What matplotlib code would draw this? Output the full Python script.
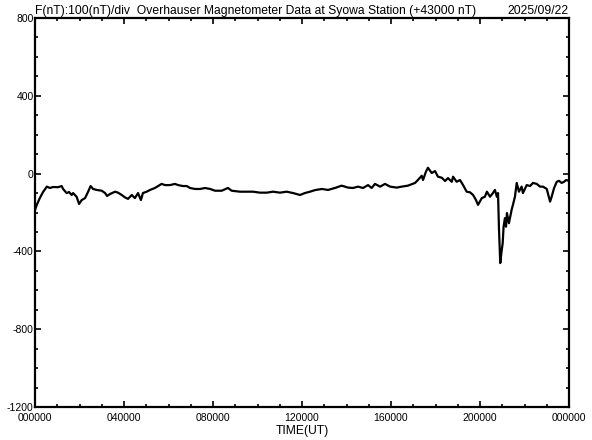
import matplotlib
matplotlib.use("Agg")
import matplotlib.pyplot as plt
from matplotlib.ticker import MultipleLocator

# F (nT) relative to 43000 nT; time in hours UT
hours = [0.00, 0.08, 0.22, 0.36, 0.53, 0.67, 0.81, 1.03, 1.20, 1.26, 1.42, 1.53,
         1.65, 1.71, 1.87, 1.98, 2.10, 2.25, 2.38, 2.50, 2.61, 2.77, 3.00, 3.15,
         3.24, 3.37, 3.60, 3.73, 3.90, 4.04, 4.18, 4.35, 4.49, 4.63, 4.76, 4.85,
         5.02, 5.17, 5.39, 5.53, 5.69, 5.84, 6.07, 6.29, 6.43, 6.65, 6.82, 6.97,
         7.19, 7.42, 7.64, 7.87, 8.09, 8.39, 8.67, 8.84, 9.21, 9.51, 9.80, 10.11,
         10.41, 10.70, 11.01, 11.31, 11.60, 11.91, 12.13, 12.36, 12.58, 12.89,
         13.17, 13.48, 13.78, 14.07, 14.29, 14.52, 14.74, 14.97, 15.13, 15.28,
         15.51, 15.73, 15.96, 16.26, 16.48, 16.76, 17.08, 17.21, 17.38, 17.44,
         17.57, 17.66, 17.83, 17.98, 18.11, 18.28, 18.43, 18.56, 18.73, 18.79,
         18.95, 19.10, 19.24, 19.40, 19.55, 19.69, 19.82, 19.91, 20.08, 20.22,
         20.31, 20.45, 20.58, 20.67, 20.76, 20.81, 20.85, 20.91, 20.97, 21.02,
         21.06, 21.12, 21.17, 21.21, 21.30, 21.42, 21.48, 21.57, 21.65, 21.75,
         21.87, 21.93, 22.10, 22.25, 22.38, 22.55, 22.70, 22.83, 23.00, 23.15,
         23.22, 23.33, 23.45, 23.55, 23.67, 23.78, 23.87, 24.00]
f_nt = [-187, -161, -125, -95, -67, -74, -69, -70, -64, -79, -100, -95,
        -110, -100, -119, -156, -136, -126, -95, -64, -79, -84, -88, -100,
        -115, -105, -93, -98, -110, -122, -130, -110, -126, -100, -136, -100,
        -93, -84, -74, -64, -53, -59, -59, -53, -59, -64, -64, -74,
        -79, -79, -74, -79, -88, -88, -74, -88, -93, -93, -93, -98,
        -98, -93, -98, -93, -100, -110, -100, -93, -85, -79,
        -84, -74, -62, -72, -74, -67, -74, -59, -74, -53,
        -67, -53, -67, -72, -67, -62, -48, -33, -11, -33,
        10, 30, 3, 13, -16, -21, -38, -23, -42, -16,
        -42, -33, -59, -93, -96, -110, -136, -161, -126, -119,
        -93, -119, -100, -84, -120, -100, -273, -460, -400, -357,
        -273, -229, -273, -203, -255, -187, -161, -119, -48, -93,
        -67, -100, -59, -64, -48, -53, -67, -67, -79, -144,
        -119, -74, -42, -37, -48, -42, -33, -37]

xtick_pos = [0, 4, 8, 12, 16, 20, 24]
xtick_labels = ["000000", "040000", "080000", "120000", "160000", "200000", "000000"]
ytick_pos = [-1200, -800, -400, 0, 400, 800]

title = "F(nT):100(nT)/div  Overhauser Magnetometer Data at Syowa Station (+43000 nT)"
date = "2025/09/22"

plt.rcParams['font.family'] = ['Liberation Sans', 'DejaVu Sans']

fig = plt.figure(figsize=(5.92, 4.40), dpi=100)
ax = fig.add_axes([35/592, 1 - 407/440, 534/592, 389/440])

ax.plot(hours, f_nt, color='black', lw=1.6)

ax.set_xlim(0, 24)
ax.set_ylim(-1200, 800)
ax.set_xticks(xtick_pos)
ax.set_xticklabels(xtick_labels, fontsize=7.5)
ax.xaxis.set_minor_locator(MultipleLocator(1))
ax.set_yticks(ytick_pos)
ax.set_yticklabels([str(v) for v in ytick_pos], fontsize=7.5)
ax.yaxis.set_minor_locator(MultipleLocator(100))

ax.tick_params(which='both', direction='in', top=True, right=True,
               width=1.2, color='black')
ax.tick_params(axis='x', which='major', pad=4)
ax.tick_params(axis='y', which='major', pad=1)
ax.tick_params(which='major', length=4.5)
ax.tick_params(which='minor', length=2.5)

for s in ax.spines.values():
    s.set_linewidth(1.6)

ax.set_xlabel("TIME(UT)", fontsize=8.7, labelpad=1.5)
ax.text(0.0, 1.002, title, transform=ax.transAxes, ha='left', va='bottom', fontsize=8.7)
ax.text(1.0, 1.002, date, transform=ax.transAxes, ha='right', va='bottom', fontsize=8.7)

fig.savefig("out.png", dpi=100, facecolor='white')
